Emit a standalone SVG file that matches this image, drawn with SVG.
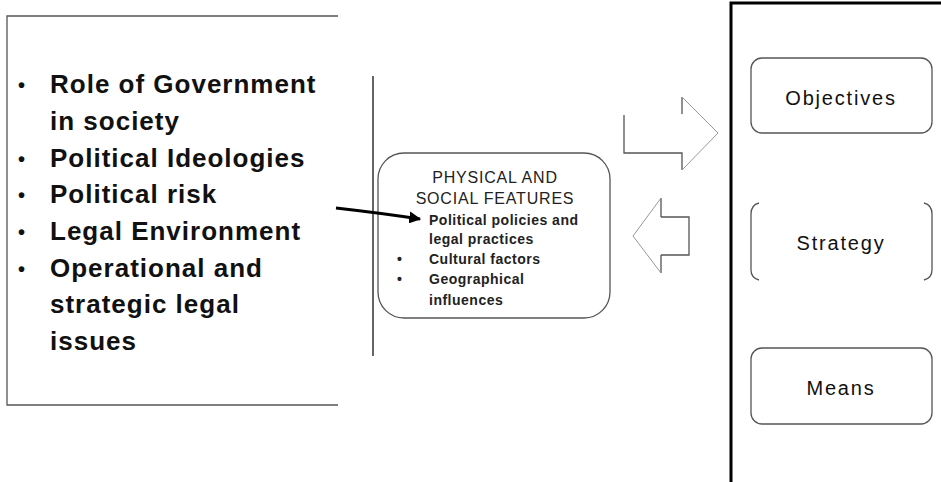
<svg xmlns="http://www.w3.org/2000/svg" width="941" height="482" viewBox="0 0 941 482">
<style>
.big{font-family:"Liberation Sans",Arial,sans-serif;font-size:26px;font-weight:bold;letter-spacing:1px;fill:#111}
.bul{font-family:"Liberation Sans",Arial,sans-serif;font-size:20px;font-weight:bold;fill:#111}
.mid{font-family:"Liberation Sans",Arial,sans-serif;font-size:16px;letter-spacing:0.8px;fill:#222}
.sm{font-family:"Liberation Sans",Arial,sans-serif;font-size:14px;font-weight:bold;letter-spacing:0.5px;fill:#222}
.lbl{font-family:"Liberation Sans",Arial,sans-serif;font-size:20px;letter-spacing:1.8px;fill:#111;text-anchor:middle}
.thin{fill:none;stroke:#555;stroke-width:1.3}
.light{fill:none;stroke:#999;stroke-width:1}
</style>
<defs>
<marker id="ah" viewBox="0 0 10 10" refX="9" refY="5" markerWidth="4" markerHeight="4" orient="auto">
<path d="M0,0 L10,5 L0,10 z" fill="#000"/>
</marker>
</defs>
<rect width="941" height="482" fill="#fff"/>
<g id="left-box">
<path d="M338,16 H7 V405 H338" class="thin"/>
<g class="bul">
<text x="18" y="92">•</text>
<text x="18" y="166">•</text>
<text x="18" y="202">•</text>
<text x="18" y="239">•</text>
<text x="18" y="276">•</text>
</g>
<g class="big">
<text x="50" y="93">Role of Government</text>
<text x="50" y="130">in society</text>
<text x="50" y="167">Political Ideologies</text>
<text x="50" y="203">Political risk</text>
<text x="50" y="240">Legal Environment</text>
<text x="50" y="277">Operational and</text>
<text x="50" y="313">strategic legal</text>
<text x="50" y="350">issues</text>
</g>
</g>
<g id="divider">
<line x1="373" y1="76" x2="373" y2="356" stroke="#333" stroke-width="1.5"/>
</g>
<g id="features">
<rect x="378" y="153" width="232" height="165" rx="26" ry="26" class="thin"/>
<text class="mid" x="495" y="183" text-anchor="middle">PHYSICAL AND</text>
<text class="mid" x="495" y="204" text-anchor="middle">SOCIAL FEATURES</text>
<g class="sm">
<text x="429" y="225">Political policies and</text>
<text x="429" y="244">legal practices</text>
<text x="397" y="264">•</text><text x="429" y="264">Cultural factors</text>
<text x="397" y="284">•</text><text x="429" y="284">Geographical</text>
<text x="429" y="305">influences</text>
</g>
</g>
<g id="connectors">
<path d="M336,208 Q380,213 420,219" fill="none" stroke="#000" stroke-width="3" marker-end="url(#ah)"/>
<g id="arrow-right">
<path d="M624,115 V153 H682 V170" class="thin"/>
<path d="M682,114 V97" class="thin"/>
<path d="M682,170 L718,133 L682,97" class="light"/>
</g>
<g id="arrow-left">
<path d="M661,217 H689 V255 H661" class="thin"/>
<path d="M661,198 V217 M661,255 V273" class="thin"/>
<path d="M661,198 L633,236 L661,273" class="light"/>
</g>
</g>
<g id="right-box">
<path d="M731,482 V3 H941" fill="none" stroke="#000" stroke-width="3"/>
</g>
<g id="objectives">
<rect x="751" y="58" width="181" height="75" rx="11" class="thin"/>
<text class="lbl" x="841" y="105">Objectives</text>
</g>
<g id="strategy">
<path d="M759,203 Q751,205 751,214 V270 Q751,278 759,280" class="thin"/>
<path d="M924,203 Q932,205 932,214 V270 Q932,278 924,280" class="thin"/>
<text class="lbl" x="841" y="250">Strategy</text>
</g>
<g id="means">
<rect x="751" y="348" width="181" height="76" rx="11" class="thin"/>
<text class="lbl" x="841" y="395">Means</text>
</g>
</svg>
